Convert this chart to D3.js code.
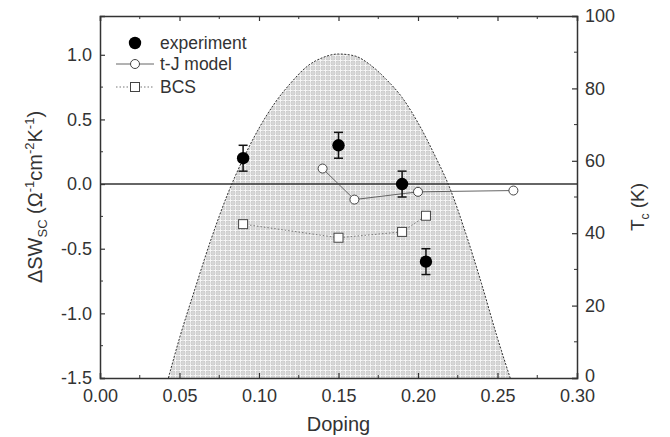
<!DOCTYPE html>
<html><head><meta charset="utf-8">
<script src="https://cdn.jsdelivr.net/npm/d3@7"></script>
<style>body{margin:0;background:#fff}svg{display:block}text{font-family:"Liberation Sans",Arial,sans-serif;fill:#333}</style>
</head><body><svg id="c" width="670" height="437"></svg>
<script>
// data
const expDoping = [0.09, 0.15, 0.19, 0.205];
const expValue = [0.2, 0.3, 0.0, -0.6];
const expErr = [0.1, 0.1, 0.1, 0.1];
const tjDoping = [0.14, 0.16, 0.20, 0.26];
const tjValue = [0.12, -0.12, -0.06, -0.05];
const bcsDoping = [0.09, 0.15, 0.19, 0.205];
const bcsValue = [-0.31, -0.415, -0.37, -0.245];
// Tc dome
const domeDoping = [0.043, 0.05, 0.06, 0.07, 0.08, 0.09, 0.10, 0.11, 0.12, 0.13, 0.14, 0.15, 0.16, 0.17, 0.18, 0.19, 0.20, 0.21, 0.22, 0.23, 0.24, 0.25, 0.258];
const domeTc = [0, 11, 25, 38.5, 50.5, 60.5, 69, 76, 81.5, 86, 88.5, 89.5, 89, 86.5, 82.5, 77.5, 70.5, 62, 52.5, 40, 26, 11, 0];
const xTicks = [0, 0.05, 0.10, 0.15, 0.20, 0.25, 0.30];
const yTicks = [-1.5, -1.0, -0.5, 0.0, 0.5, 1.0];
const tcTicks = [0, 20, 40, 60, 80, 100];

const svg = d3.select("#c");
const L = 100, R = 577, T = 16, B = 378;
const x = d3.scaleLinear().domain([0, 0.30]).range([L, R]);
const y = d3.scaleLinear().domain([-1.5, 1.3]).range([B, T]);
const yT = d3.scaleLinear().domain([0, 100]).range([B, T]);

// pattern
const defs = svg.append("defs");
const pat = defs.append("pattern").attr("id", "grid").attr("patternUnits", "userSpaceOnUse")
  .attr("width", 10).attr("height", 10);
pat.append("rect").attr("width", 10).attr("height", 10).attr("fill", "#cbcbcb");
pat.append("path").attr("d", "M0.5,0V10M5.5,0V10M0,0.5H10M0,5.5H10").attr("stroke", "#f6f6f6").attr("stroke-width", 1);
pat.append("path").attr("d", "M3,0V10M8,0V10M0,3H10M0,8H10").attr("stroke", "#dcdcdc").attr("stroke-width", 1);

const domePts = domeDoping.map((d, i) => [d, domeTc[i]]);
const lineDome = d3.line().x(d => x(d[0])).y(d => yT(d[1])).curve(d3.curveMonotoneX);
const area = d3.area().x(d => x(d[0])).y0(yT(0)).y1(d => yT(d[1])).curve(d3.curveMonotoneX);
svg.append("path").datum(domePts).attr("d", area).attr("fill", "url(#grid)");
svg.append("path").datum(domePts).attr("d", lineDome).attr("fill", "none")
  .attr("stroke", "#333").attr("stroke-width", 1).attr("stroke-dasharray", "2,1.5");

// zero line
svg.append("line").attr("x1", L).attr("x2", R).attr("y1", y(0)).attr("y2", y(0))
  .attr("stroke", "#333").attr("stroke-width", 1.5);

// axes frame
const ax = svg.append("g");
const tickLen = 5, minorLen = 3;
const xAxB = d3.axisBottom(x).tickValues(xTicks).tickSize(-tickLen).tickPadding(11).tickFormat(d3.format(".2f"));
const gB = ax.append("g").attr("transform", `translate(0,${B})`).call(xAxB);
const xAxT = d3.axisTop(x).tickValues(xTicks).tickSize(-tickLen).tickFormat("");
const gT = ax.append("g").attr("transform", `translate(0,${T})`).call(xAxT);
const yAxL = d3.axisLeft(y).tickValues(yTicks).tickSize(-tickLen).tickPadding(8).tickFormat(d3.format(".1f"));
const gL = ax.append("g").attr("transform", `translate(${L},0)`).call(yAxL);
const yAxR = d3.axisRight(yT).tickValues(tcTicks).tickSize(-tickLen).tickPadding(8);
const gR = ax.append("g").attr("transform", `translate(${R},0)`).call(yAxR);
[gB, gT, gL, gR].forEach(g => {
  g.select(".domain").attr("stroke", "#333").attr("stroke-width", 1.5);
  g.selectAll(".tick line").attr("stroke", "#333").attr("stroke-width", 1.2);
  g.selectAll("text").attr("font-size", 18).attr("fill", "#333").attr("font-family", "Liberation Sans, Arial, sans-serif");
});
gL.selectAll("text").text(d => d3.format(".1f")(d).replace("−", "-"));
gR.selectAll(".tick").filter(d => d === 0).select("text").attr("dy", "0.2em");
// minor ticks
const xMinor = [0.025, 0.075, 0.125, 0.175, 0.225, 0.275];
const yMinor = [-1.25, -0.75, -0.25, 0.25, 0.75];
const tcMinor = [10, 30, 50, 70, 90];
xMinor.forEach(v => {
  ax.append("line").attr("x1", x(v)).attr("x2", x(v)).attr("y1", B).attr("y2", B - minorLen).attr("stroke", "#333");
  ax.append("line").attr("x1", x(v)).attr("x2", x(v)).attr("y1", T).attr("y2", T + minorLen).attr("stroke", "#333");
});
yMinor.forEach(v => ax.append("line").attr("x1", L).attr("x2", L + minorLen).attr("y1", y(v)).attr("y2", y(v)).attr("stroke", "#333"));
tcMinor.forEach(v => ax.append("line").attr("x1", R).attr("x2", R - minorLen).attr("y1", yT(v)).attr("y2", yT(v)).attr("stroke", "#333"));

// BCS
const bcs = bcsDoping.map((d, i) => [d, bcsValue[i]]);
svg.append("path").datum(bcs).attr("d", d3.line().x(d => x(d[0])).y(d => y(d[1]))).attr("fill", "none")
  .attr("stroke", "#777").attr("stroke-width", 1).attr("stroke-dasharray", "1.5,2");
svg.selectAll(".bcs").data(bcs).enter().append("rect")
  .attr("x", d => x(d[0]) - 4.5).attr("y", d => y(d[1]) - 4.5).attr("width", 9).attr("height", 9)
  .attr("fill", "#fff").attr("stroke", "#444").attr("stroke-width", 1);

// t-J
const tj = tjDoping.map((d, i) => [d, tjValue[i]]);
svg.append("path").datum(tj).attr("d", d3.line().x(d => x(d[0])).y(d => y(d[1]))).attr("fill", "none")
  .attr("stroke", "#555").attr("stroke-width", 0.9);
svg.selectAll(".tj").data(tj).enter().append("circle")
  .attr("cx", d => x(d[0])).attr("cy", d => y(d[1])).attr("r", 4.5)
  .attr("fill", "#fff").attr("stroke", "#444").attr("stroke-width", 1);

// experiment
const ex = expDoping.map((d, i) => [d, expValue[i], expErr[i]]);
const eg = svg.selectAll(".ex").data(ex).enter().append("g");
eg.append("line").attr("x1", d => x(d[0])).attr("x2", d => x(d[0]))
  .attr("y1", d => y(d[1] - d[2])).attr("y2", d => y(d[1] + d[2])).attr("stroke", "#111").attr("stroke-width", 1.5);
[-1, 1].forEach(s => eg.append("line").attr("x1", d => x(d[0]) - 4.5).attr("x2", d => x(d[0]) + 4.5)
  .attr("y1", d => y(d[1] + s * d[2])).attr("y2", d => y(d[1] + s * d[2])).attr("stroke", "#111").attr("stroke-width", 1.5));
eg.append("circle").attr("cx", d => x(d[0])).attr("cy", d => y(d[1])).attr("r", 6.2).attr("fill", "#000");

// legend
const lg = svg.append("g");
lg.append("circle").attr("cx", 135).attr("cy", 43).attr("r", 6.2).attr("fill", "#000");
lg.append("text").attr("x", 160).attr("y", 49).attr("font-size", 17.5).text("experiment");
lg.append("line").attr("x1", 116).attr("x2", 154).attr("y1", 64).attr("y2", 64).attr("stroke", "#555").attr("stroke-width", 0.9);
lg.append("circle").attr("cx", 135).attr("cy", 64).attr("r", 4.5).attr("fill", "#fff").attr("stroke", "#444");
lg.append("text").attr("x", 160).attr("y", 70).attr("font-size", 17.5).text("t-J model");
lg.append("line").attr("x1", 116).attr("x2", 154).attr("y1", 87).attr("y2", 87).attr("stroke", "#777").attr("stroke-dasharray", "1.5,2");
lg.append("rect").attr("x", 130.5).attr("y", 82.5).attr("width", 9).attr("height", 9).attr("fill", "#fff").attr("stroke", "#444");
lg.append("text").attr("x", 160).attr("y", 93).attr("font-size", 17.5).text("BCS");

// axis titles
svg.append("text").attr("x", (L + R) / 2).attr("y", 431).attr("text-anchor", "middle").attr("font-size", 20).text("Doping");
const yl = svg.append("text").attr("transform", "translate(42,197) rotate(-90)").attr("text-anchor", "middle").attr("font-size", 20);
yl.append("tspan").text("ΔSW");
yl.append("tspan").attr("font-size", 13).attr("dy", 5).text("SC");
yl.append("tspan").attr("dy", -5).text(" (Ω");
yl.append("tspan").attr("font-size", 13).attr("dy", -8).text("-1");
yl.append("tspan").attr("dy", 8).text("cm");
yl.append("tspan").attr("font-size", 13).attr("dy", -8).text("-2");
yl.append("tspan").attr("dy", 8).text("K");
yl.append("tspan").attr("font-size", 13).attr("dy", -8).text("-1");
yl.append("tspan").attr("dy", 8).text(")");
const rl = svg.append("text").attr("transform", "translate(644,207) rotate(-90)").attr("text-anchor", "middle").attr("font-size", 19);
rl.append("tspan").text("T");
rl.append("tspan").attr("font-size", 12).attr("dy", 5).text("c");
rl.append("tspan").attr("dy", -5).text(" (K)");
</script></body></html>
